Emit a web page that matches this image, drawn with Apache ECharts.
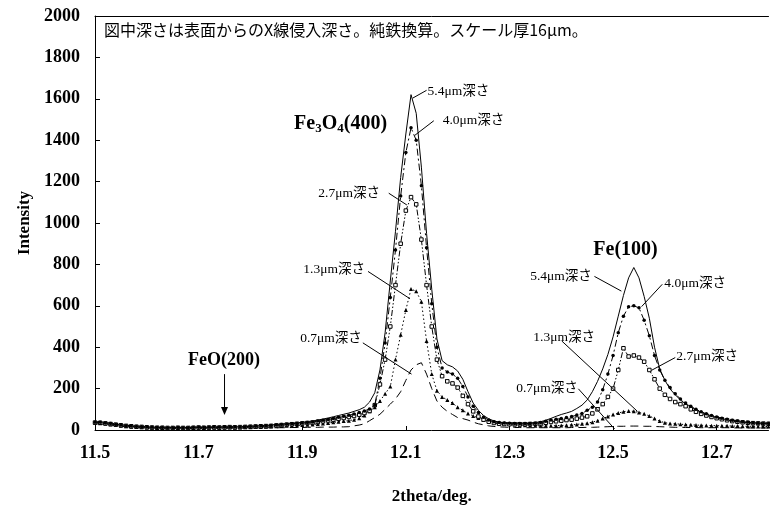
<!DOCTYPE html>
<html><head><meta charset="utf-8">
<script src="https://cdn.jsdelivr.net/npm/echarts@6/dist/echarts.min.js"></script>
<style>html,body{margin:0;padding:0;background:#fff}#c{width:770px;height:510px}</style>
</head><body><div id="c"></div>
<script>
const twoTheta = [11.50,11.51,11.52,11.53,11.54,11.55,11.56,11.57,11.58,11.59,
11.60,11.61,11.62,11.63,11.64,11.65,11.66,11.67,11.68,11.69,
11.70,11.71,11.72,11.73,11.74,11.75,11.76,11.77,11.78,11.79,
11.80,11.81,11.82,11.83,11.84,11.85,11.86,11.87,11.88,11.89,
11.90,11.91,11.92,11.93,11.94,11.95,11.96,11.97,11.98,11.99,
12.00,12.01,12.02,12.03,12.04,12.05,12.06,12.07,12.08,12.09,
12.10,12.11,12.12,12.13,12.14,12.15,12.16,12.17,12.18,12.19,
12.20,12.21,12.22,12.23,12.24,12.25,12.26,12.27,12.28,12.29,
12.30,12.31,12.32,12.33,12.34,12.35,12.36,12.37,12.38,12.39,
12.40,12.41,12.42,12.43,12.44,12.45,12.46,12.47,12.48,12.49,
12.50,12.51,12.52,12.53,12.54,12.55,12.56,12.57,12.58,12.59,
12.60,12.61,12.62,12.63,12.64,12.65,12.66,12.67,12.68,12.69,
12.70,12.71,12.72,12.73,12.74,12.75,12.76,12.77,12.78,12.79,12.80];

const depth54 = [40,39,36,33,29,26,23,20,18,17, 15,14,13,13,12,12,13,12,12,13,
14,13,14,15,14,15,16,15,16,17, 18,19,21,22,24,27,
29,31,33,35,37,40,44,48,53,58, 64,70,76,82,90,98,110,135,180,
290,470,720,960,1220,1430,1620,1530,1270,950, 680,440,335,315,305,285,245,185,130,95, 70,54,44,38,
36,35,34,34,33,34,36,40,47,56,66,
75,82,90,104,120,145,185,235,295,365, 450,550,650,735,785,735,645,540,400,295,
240,198,170,145,126,110,96,86,76,68, 61,55,49,44,41,38,36,35,34,33, 33];

const depth40 = [38,37,34,31,27,24,21,19,17,16, 14,13,12,12,11,11,12,11,11,12,
13,12,13,14,13,14,15,14,15,16, 17,18,19,20,22,24,
26,28,30,32,34,36,39,43,47,51, 56,61,66,71,77,84,92,102,120,
250,420,640,870,1130,1340,1460,1400,1180,880, 610,400,300,280,270,250,210,160,115,85, 62,48,40,36,
34,33,32,32,31,32,33,36,42,48,52,
55,60,65,72,80,95,110,135,195,270, 360,470,550,595,600,590,530,455,360,290,
240,205,175,150,130,115,100,88,78,70, 63,57,52,47,43,40,37,35,33,32, 31];

const depth27 = [36,35,32,29,26,23,20,18,16,15, 13,12,11,11,10,10,11,10,10,11,
12,11,12,13,12,13,14,13,14,15, 16,17,18,19,20,22,
24,26,28,30,32,34,36,39,42,46, 50,54,58,63,68,74,82,92,120,
220,340,500,700,900,1060,1125,1090,920,700, 500,340,260,235,225,205,165,125,90,65, 50,40,34,30,
29,28,28,28,28,29,30,32,35,39,42,
45,48,50,55,60,66,80,100,125,160, 200,290,395,355,360,350,330,290,245,200,
170,150,135,125,115,100,88,78,70,63, 57,52,47,43,40,37,35,33,32,31, 30];

const depth13 = [34,33,30,27,24,21,18,16,14,13, 12,11,10,10,9,9,10,9,9,10,
11,10,11,11,10,11,12,11,12,13, 13,14,15,16,17,18,
19,20,21,22,24,25,27,29,31,34, 37,40,43,45,50,57,70,90,110,
140,175,210,340,460,580,681,670,620,430, 270,190,160,145,130,110,95,80,68,58, 50,44,40,36,
33,30,27,25,23,22,21,20,20,20,21,
22,23,25,27,30,33,38,45,55,65, 75,82,88,92,90,85,78,68,55,43,
35,32,30,28,26,25,24,23,22,21, 21,20,20,19,19,18,18,18,17,17, 17];

const depth07 = [30,29,27,24,21,18,16,14,12,11, 10,9,8,8,8,8,8,8,8,8,
8,8,8,9,8,9,9,9,9,10, 10,10,10,11,11,11,
11,11,12,12,12,13,13,13,14,14, 14,15,15,16,20,24,30,45,60,
76,100,125,150,185,240,290,315,325,270, 200,140,110,90,75,60,55,48,38,30, 25,20,17,15,
14,13,12,12,11,11,11,11,11,11,11,
11,11,12,12,12,13,13,14,15,16, 17,18,18,19,19,19,18,18,17,16,
15,14,13,13,12,12,12,11,11,11, 11,11,11,10,10,10,10,10,10,10, 10];

const depthNames = ['5.4μm深さ','4.0μm深さ','2.7μm深さ','1.3μm深さ','0.7μm深さ'];
const yTicks = [0,200,400,600,800,1000,1200,1400,1600,1800,2000];
const titleNote = '図中深さは表面からのX線侵入深さ。純鉄換算。スケール厚16μm。';
const xName = '2theta/deg.';
const yName = 'Intensity';

// annotation anchors in data units: [text, textX, textY, align, lineFrom, lineTo]
const annoMain = [
  [depthNames[0], 12.142, 1636, 'left',  [12.140,1641], [12.113,1603]],
  [depthNames[1], 12.171, 1494, 'left',  [12.154,1494], [12.117,1423]],
  [depthNames[2], 12.050, 1144, 'right', [12.067,1144], [12.102,1087]],
  [depthNames[3], 12.021, 775,  'right', [12.027,766],  [12.108,634]],
  [depthNames[4], 12.015, 444,  'right', [12.017,421],  [12.111,270]]
];
const annoFe = [
  [depthNames[0], 12.459, 742, 'right', [12.464,742], [12.516,671]],
  [depthNames[1], 12.599, 709, 'left',  [12.595,704], [12.555,596]],
  [depthNames[2], 12.622, 355, 'left',  [12.620,350], [12.574,288]],
  [depthNames[3], 12.465, 447, 'right', [12.401,430], [12.547,90]],
  [depthNames[4], 12.432, 203, 'right', [12.433,199], [12.503,5]]
];
const peakLabels = [
  ['{a|Fe}{s|3}{a|O}{s|4}{a|(400)}', 11.974, 1480],
  ['{a|Fe(100)}', 12.524, 870],
  ['{b|FeO(200)}', 11.749, 336]
];
const feoArrow = [11.75, 270, 72];

const serif = '"Liberation Serif","Times New Roman","Noto Sans CJK JP",serif';
const pairs = arr => twoTheta.map((x, i) => [x, arr[i]]);

const chart = echarts.init(document.getElementById('c'), null, {renderer: 'canvas'});
const baseSeries = (name, data, lineType, symbol, size, itemStyle) => ({
  name, type: 'line', data: pairs(data), smooth: false,
  showSymbol: symbol !== 'none', symbol, symbolSize: size,
  itemStyle: itemStyle || {color: '#000'},
  lineStyle: {color: '#000', width: 1, type: lineType},
  emphasis: {disabled: true}, animation: false
});

chart.setOption({
  animation: false,
  grid: {left: 95, right: 1.5, top: 16, bottom: 71, containLabel: false},
  xAxis: [{
    type: 'value', min: 11.5, max: 12.8, interval: 0.2,
    name: xName, nameLocation: 'middle', nameGap: 58,
    nameTextStyle: {fontFamily: serif, fontWeight: 'bold', fontSize: 17, color: '#000'},
    axisLine: {show: true, lineStyle: {color: '#000', width: 1}},
    axisTick: {show: true, inside: true, length: 4, lineStyle: {color: '#000'}},
    axisLabel: {fontFamily: serif, fontWeight: 'bold', fontSize: 18, color: '#000', margin: 14,
      showMaxLabel: false, formatter: v => v.toFixed(1)},
    splitLine: {show: false}
  }, {
    type: 'value', position: 'top', min: 11.5, max: 12.8,
    axisLine: {show: true, lineStyle: {color: '#000', width: 1}},
    axisTick: {show: false}, axisLabel: {show: false}, splitLine: {show: false}
  }],
  yAxis: {
    type: 'value', min: yTicks[0], max: yTicks[yTicks.length - 1], interval: 200,
    name: yName, nameLocation: 'middle', nameGap: 60, nameRotate: 90,
    nameTextStyle: {fontFamily: serif, fontWeight: 'bold', fontSize: 17, color: '#000'},
    axisLine: {show: true, lineStyle: {color: '#000', width: 1}},
    axisTick: {show: true, inside: true, length: 5, lineStyle: {color: '#000'}},
    axisLabel: {fontFamily: serif, fontWeight: 'bold', fontSize: 18, color: '#000', margin: 15,
      formatter: v => String(v)},
    splitLine: {show: false}
  },
  series: [
    baseSeries(depthNames[4], depth07, [8, 5], 'none', 0),
    baseSeries(depthNames[3], depth13, [1.5, 2.5], 'triangle', 4),
    baseSeries(depthNames[2], depth27, [6, 2, 1.5, 2, 1.5, 2], 'rect', 3.5,
      {color: '#fff', borderColor: '#000', borderWidth: 1}),
    baseSeries(depthNames[1], depth40, [7, 3, 2, 3], 'circle', 3.5),
    baseSeries(depthNames[0], depth54, 'solid', 'none', 0)
  ]
});

const px = (v, i) => chart.convertToPixel({xAxisIndex: 0, yAxisIndex: 0}, [v, i]);
const g = [];
const labelFont = '13.5px ' + serif;
[...annoMain, ...annoFe].forEach(a => {
  const p = px(a[1], a[2]), l1 = px(a[4][0], a[4][1]), l2 = px(a[5][0], a[5][1]);
  g.push({type: 'line', shape: {x1: l1[0], y1: l1[1], x2: l2[0], y2: l2[1]},
    style: {stroke: '#000', lineWidth: 1}, z: 100});
  g.push({type: 'text', x: p[0], y: p[1], z: 101,
    style: {text: a[0], font: labelFont, fill: '#000', align: a[3], verticalAlign: 'middle'}});
});
const richStyle = {
  a: {fontFamily: serif, fontWeight: 'bold', fontSize: 20, color: '#000', lineHeight: 24, verticalAlign: 'middle'},
  s: {fontFamily: serif, fontWeight: 'bold', fontSize: 13, color: '#000', lineHeight: 24, verticalAlign: 'bottom'},
  b: {fontFamily: serif, fontWeight: 'bold', fontSize: 18, color: '#000', lineHeight: 22, verticalAlign: 'middle'}
};
peakLabels.forEach(pl => {
  const p = px(pl[1], pl[2]);
  g.push({type: 'text', x: p[0], y: p[1], z: 101,
    style: {text: pl[0], rich: richStyle, align: 'center', verticalAlign: 'middle', fill: '#000'}});
});
const aTop = px(feoArrow[0], feoArrow[1]), aEnd = px(feoArrow[0], feoArrow[2]);
g.push({type: 'line', shape: {x1: aTop[0], y1: aTop[1], x2: aEnd[0], y2: aEnd[1] - 5},
  style: {stroke: '#000', lineWidth: 1}, z: 100});
g.push({type: 'polygon', shape: {points: [[aEnd[0] - 3.5, aEnd[1] - 8], [aEnd[0] + 3.5, aEnd[1] - 8], [aEnd[0], aEnd[1]]]},
  style: {fill: '#000'}, z: 100});
const tl = px(11.5, 2000);
g.push({type: 'text', x: tl[0] + 9, y: tl[1] + 14, z: 101,
  style: {text: titleNote, font: '16px "Noto Sans CJK JP",sans-serif', fill: '#000', align: 'left', verticalAlign: 'middle'}});
chart.setOption({graphic: g});
</script>
</body></html>
